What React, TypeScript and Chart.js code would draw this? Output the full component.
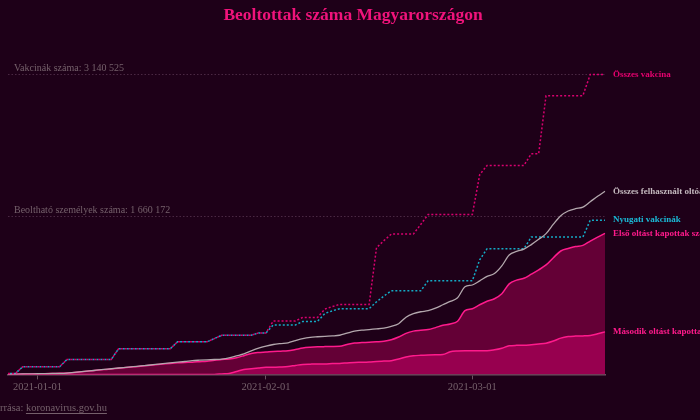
import React, { useEffect, useRef } from "react";
import { Chart, registerables } from "chart.js";

Chart.register(...registerables);

// ---- data (values in thousands of doses) ----
const START_DATE = "2020-12-28";
const DAY_COUNT = 82;
const X_TICK_DATES = ["2021-01-01", "2021-02-01", "2021-03-01"];

const OSSZES_VAKCINA = [
  10, 10, 80, 80, 80, 80, 80, 80, 156, 156, 156, 156, 156, 156, 156, 268, 268, 268, 268, 268, 268, 268, 268,
  341, 341, 341, 341, 341, 375, 410, 410, 410, 410, 410, 434, 434, 560, 560, 560, 560, 597, 597, 597, 685, 710,
  733, 733, 733, 733, 733, 1327, 1400, 1469, 1469, 1469, 1469, 1570, 1674, 1674, 1674, 1674, 1674, 1674, 1674,
  2091, 2188, 2188, 2188, 2188, 2188, 2188, 2310, 2310, 2918, 2918, 2918, 2918, 2918, 2918, 3140.525, 3140.525,
  3140.525,
];

const NYUGATI_VAKCINAK = [
  10, 10, 80, 80, 80, 80, 80, 80, 156, 156, 156, 156, 156, 156, 156, 268, 268, 268, 268, 268, 268, 268, 268,
  341, 341, 341, 341, 341, 375, 410, 410, 410, 410, 410, 434, 434, 518, 518, 518, 518, 555, 555, 555, 639, 665,
  688, 688, 688, 688, 688, 760, 820, 875, 875, 875, 875, 875, 980, 980, 980, 980, 980, 980, 980, 1200, 1316,
  1316, 1316, 1316, 1316, 1316, 1438, 1438, 1438, 1438, 1438, 1438, 1438, 1438, 1615, 1615, 1615,
];

const OSSZES_FELHASZNALT = [
  0, 2, 4, 5, 7, 8, 10, 11, 14, 21, 28, 36, 44, 52, 59, 67, 74, 81, 89, 96, 104, 113, 121, 128, 135, 144, 149,
  153, 156, 160, 172, 193, 214, 247, 276, 297, 313, 323, 331, 354, 375, 388, 394, 399, 403, 410, 432, 453, 464,
  469, 476, 485, 503, 531, 599, 636, 656, 667, 693, 729, 764, 802, 917, 936, 979, 1026, 1056, 1136, 1250, 1287,
  1311, 1359, 1414, 1474, 1573, 1662, 1711, 1735, 1751, 1808, 1865, 1917,
];

const ELSO_OLTAS = [
  0, 2, 4, 5, 7, 8, 10, 11, 14, 21, 28, 35, 43, 50, 57, 65, 72, 79, 86, 94, 101, 108, 115, 121, 125, 128, 133,
  138, 149, 156, 162, 175, 196, 219, 229, 234, 240, 243, 247, 261, 276, 284, 289, 291, 292, 294, 313, 328, 333,
  336, 341, 347, 362, 391, 430, 453, 462, 469, 490, 514, 528, 557, 667, 688, 729, 766, 792, 844, 948, 987, 1006,
  1049, 1094, 1146, 1222, 1292, 1318, 1339, 1351, 1396, 1438, 1477,
];

const MASODIK_OLTAS = [
  0, 0, 0, 0, 0, 0, 0, 0, 0, 0, 0, 0, 0, 0, 0, 0, 0, 0, 0, 0, 0, 0, 0, 0, 0, 0, 0, 0, 0,
  5, 10, 31, 52, 60, 68, 75, 75, 78, 83, 94, 104, 107, 109, 109, 113, 115, 120, 125, 127, 130, 135, 139, 143,
  162, 182, 195, 200, 203, 205, 208, 237, 245, 247, 247, 247, 247, 257, 274, 299, 304, 305, 311, 318, 326, 349,
  380, 396, 401, 403, 408, 425, 445,
];

const REF_LABELS = ["Vakcinák száma: 3 140 525", "Beoltható személyek száma: 1 660 172"];
const REF_VALUES = [3140.525, 1660.172];

const SERIES_LABELS = [
  "Összes vakcina",
  "Nyugati vakcinák",
  "Összes felhasznált oltóanyag",
  "Első oltást kapottak száma",
  "Második oltást kapottak száma",
];

const TITLE = "Beoltottak száma Magyarországon";
const SOURCE_PREFIX = "Adatok forrása: ";
const SOURCE_LINK = "koronavirus.gov.hu";

function buildDates(start: string, n: number): string[] {
  const out: string[] = [];
  const d0 = new Date(start + "T00:00:00Z");
  for (let i = 0; i < n; i++) {
    const d = new Date(d0.getTime() + i * 86400000);
    out.push(d.toISOString().slice(0, 10));
  }
  return out;
}
const DATES = buildDates(START_DATE, DAY_COUNT);

// ---- styles ----
const BG = "#1e0018";
const PINK = "#ff1a8c";
const PINK_DOT = "#d8006f";
const CYAN = "#14aac6";
const GREY = "#b3a7ad";
const MUTED = "#75606b";
const SERIF = "'Liberation Serif', 'DejaVu Serif', serif";

export default function App() {
  const ref = useRef<HTMLCanvasElement | null>(null);

  useEffect(() => {
    document.body.style.margin = "0";
    document.body.style.background = BG;
    const canvas = ref.current;
    if (!canvas) return;

    const overlay = {
      id: "overlay",
      beforeDatasetsDraw(chart: any) {
        const { ctx, chartArea, scales } = chart;
        const y = scales.y;
        ctx.save();
        REF_VALUES.forEach((v, i) => {
          const py = Math.round(y.getPixelForValue(v)) + 0.5;
          ctx.strokeStyle = "#4a2843";
          ctx.lineWidth = 1;
          ctx.setLineDash([1.5, 2]);
          ctx.beginPath();
          ctx.moveTo(chartArea.left, py);
          ctx.lineTo(chartArea.right, py);
          ctx.stroke();
          ctx.setLineDash([]);
          ctx.fillStyle = MUTED;
          ctx.font = `10px ${SERIF}`;
          ctx.textAlign = "left";
          ctx.textBaseline = "alphabetic";
          ctx.fillText(REF_LABELS[i], chartArea.left + 6, py - 4);
        });
        ctx.restore();
      },
      afterDraw(chart: any) {
        const { ctx, chartArea, scales } = chart;
        const y = scales.y;
        ctx.save();
        // title
        ctx.fillStyle = "#f0137b";
        ctx.font = `bold 17.5px ${SERIF}`;
        ctx.textAlign = "center";
        ctx.textBaseline = "middle";
        ctx.fillText(TITLE, 353, 15);

        // end labels
        const ends = [
          { v: OSSZES_VAKCINA[OSSZES_VAKCINA.length - 1], c: "#e6006f" },
          { v: NYUGATI_VAKCINAK[NYUGATI_VAKCINAK.length - 1], c: "#1ab8d6" },
          { v: OSSZES_FELHASZNALT[OSSZES_FELHASZNALT.length - 1], c: "#c4b8be" },
          { v: ELSO_OLTAS[ELSO_OLTAS.length - 1], c: PINK },
          { v: MASODIK_OLTAS[MASODIK_OLTAS.length - 1], c: PINK },
        ];
        ctx.font = `bold 9px ${SERIF}`;
        ctx.textAlign = "left";
        ends.forEach((e, i) => {
          ctx.fillStyle = e.c;
          ctx.fillText(SERIES_LABELS[i], chartArea.right + 8, y.getPixelForValue(e.v));
        });

        // source
        ctx.font = `10.5px ${SERIF}`;
        ctx.fillStyle = MUTED;
        ctx.textBaseline = "alphabetic";
        const cut = ctx.measureText("Adatok fo").width;
        const sx = -cut;
        const sy = 411;
        ctx.fillText(SOURCE_PREFIX, sx, sy);
        const lx = sx + ctx.measureText(SOURCE_PREFIX).width;
        ctx.fillText(SOURCE_LINK, lx, sy);
        const lw = ctx.measureText(SOURCE_LINK).width;
        ctx.strokeStyle = MUTED;
        ctx.lineWidth = 1;
        ctx.beginPath();
        ctx.moveTo(lx, sy + 2.5);
        ctx.lineTo(lx + lw, sy + 2.5);
        ctx.stroke();
        ctx.restore();
      },
    };

    const isTick = (i: number) => X_TICK_DATES.includes(DATES[i]);

    const chart = new Chart(canvas, {
      type: "line",
      data: {
        labels: DATES,
        datasets: [
          {
            label: SERIES_LABELS[0],
            data: OSSZES_VAKCINA,
            borderColor: PINK_DOT,
            borderWidth: 1.5,
            borderDash: [2, 2],
            tension: 0,
            fill: false,
            pointRadius: 0,
            order: 0,
          },
          {
            label: SERIES_LABELS[1],
            data: NYUGATI_VAKCINAK,
            borderColor: CYAN,
            borderWidth: 1.5,
            borderDash: [2, 2],
            borderDashOffset: 2,
            tension: 0,
            fill: false,
            pointRadius: 0,
            order: 0.5,
          },
          {
            label: SERIES_LABELS[2],
            data: OSSZES_FELHASZNALT,
            borderColor: GREY,
            borderWidth: 1.3,
            cubicInterpolationMode: "monotone",
            fill: false,
            pointRadius: 0,
            order: 0,
          },
          {
            label: SERIES_LABELS[3],
            data: ELSO_OLTAS,
            borderColor: PINK,
            backgroundColor: "#640036",
            borderWidth: 1.5,
            cubicInterpolationMode: "monotone",
            fill: "origin",
            pointRadius: 0,
            order: 2,
          },
          {
            label: SERIES_LABELS[4],
            data: MASODIK_OLTAS,
            borderColor: PINK,
            backgroundColor: "#97004f",
            borderWidth: 1.5,
            cubicInterpolationMode: "monotone",
            fill: "origin",
            pointRadius: 0,
            order: 1,
          },
        ],
      },
      options: {
        animation: false,
        responsive: false,
        devicePixelRatio: 1,
        layout: { padding: { left: 8, right: 95, top: 42, bottom: 24 } },
        plugins: {
          legend: { display: false },
          tooltip: { enabled: false },
          title: { display: false },
        },
        scales: {
          y: { display: false, min: 0, max: 3480 },
          x: {
            offset: false,
            border: { color: "#6a5260", width: 1.5 },
            grid: {
              drawOnChartArea: false,
              tickLength: 5,
              color: (c: any) => (isTick(c.index) ? "#6a5260" : "transparent"),
            },
            ticks: {
              autoSkip: false,
              maxRotation: 0,
              padding: 2,
              color: MUTED,
              font: { family: SERIF, size: 10.5 },
              callback: (_v: any, i: number) => (isTick(i) ? DATES[i] : ""),
            },
          },
        },
      },
      plugins: [overlay],
    } as any);

    return () => chart.destroy();
  }, []);

  return (
    <div style={{ width: 700, height: 420, background: BG }}>
      <canvas ref={ref} width={700} height={420} style={{ display: "block" }} />
    </div>
  );
}
